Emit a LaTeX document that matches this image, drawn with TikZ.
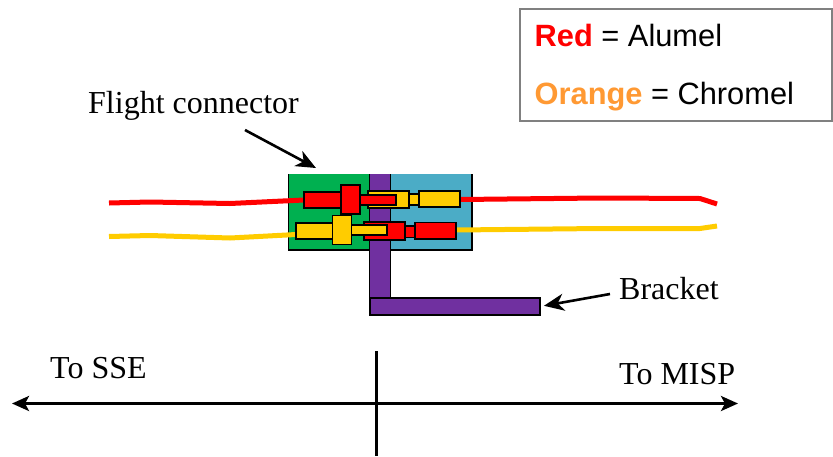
\documentclass[tikz,border=0pt]{standalone}
\usepackage{fontspec}
\setmainfont{Liberation Serif}
\newfontfamily\legendfont{Liberation Sans}
\usetikzlibrary{arrows.meta}
\definecolor{shellgreen}{RGB}{0,176,80}
\definecolor{shellblue}{RGB}{75,172,198}
\definecolor{bracketpurple}{RGB}{112,48,160}
\definecolor{wirered}{RGB}{255,0,0}
\definecolor{wireorange}{RGB}{255,204,0}
\definecolor{legendorange}{RGB}{255,153,51}

\begin{document}
\begin{tikzpicture}[x=1pt,y=-1pt,
	part/.style={rectangle,draw=black,line width=1.5pt,inner sep=0pt,outer sep=0pt},
	redpart/.style={part,fill=wirered},
	orangepart/.style={part,fill=wireorange},
	shell/.style={rectangle,inner sep=0pt,outer sep=0pt},
	redwire/.style={wirered,line width=5pt},
	orangewire/.style={wireorange,line width=5pt},
	label/.style={inner sep=0pt,font=\fontsize{32}{36}\selectfont},
	pointer/.style={line width=2.6pt,-{Stealth[length=20pt,width=17pt,inset=6pt]}},
	axis/.style={line width=3pt}]
\useasboundingbox (0,0) rectangle (833,456);

% connector shells
\node[shell,fill=shellgreen,minimum width=81pt,minimum height=76pt] (lefthalf) at (329,212) {};
\node[shell,fill=shellblue,minimum width=82pt,minimum height=76pt] (righthalf) at (431,212) {};
\node[shell,fill=bracketpurple,minimum width=21pt,minimum height=140pt] (post) at (379.5,244) {};
\node[part,fill=bracketpurple,minimum width=170pt,minimum height=17pt] (foot) at (455,306.5) {};
\draw[line width=1.5pt] (lefthalf.north west) -- (lefthalf.south west) -- (lefthalf.south east);
\draw[line width=1.5pt] (righthalf.north east) -- (righthalf.south east) -- (righthalf.south west);
\draw[line width=1pt] (post.north west) -- (post.south west);
\draw[line width=1pt] (post.north east) -- (foot.north -| post.east);

% wires
\coordinate (redleft) at (109,203);
\coordinate (redright) at (717,204);
\coordinate (orangeleft) at (109,236.5);
\coordinate (orangeright) at (717,226);
\draw[redwire] (redleft) -- (150,202) -- (230,203.5) -- (304,200);
\draw[redwire] (460,199.5) -- (600,198) -- (700,198.5) -- (redright);
\draw[orangewire] (orangeleft) -- (150,235.5) -- (230,238) -- (296,234.5);
\draw[orangewire] (456,230) -- (600,228.5) -- (700,228.5) -- (orangeright);

% upper contact
\node[orangepart,minimum width=41pt,minimum height=17pt] (topsocket) at (388.5,199.5) {};
\node[orangepart,minimum width=10pt,minimum height=11pt] (topneck) at (414,199.5) {};
\node[orangepart,minimum width=41pt,minimum height=16pt] (topbody) at (439.5,199) {};
\node[redpart,minimum width=37pt,minimum height=16pt] (topplug) at (322.5,200) {};
\node[redpart,minimum width=36pt,minimum height=10pt] (toppin) at (378,200) {};
\node[redpart,minimum width=19pt,minimum height=29pt] (topcollar) at (350.5,199.5) {};

% lower contact
\node[redpart,minimum width=41pt,minimum height=18pt] (lowsocket) at (384.5,231) {};
\node[redpart,minimum width=10pt,minimum height=11.5pt] (lowneck) at (410,231.5) {};
\node[redpart,minimum width=41pt,minimum height=16.5pt] (lowbody) at (435.5,230.5) {};
\node[orangepart,minimum width=37pt,minimum height=16pt] (lowplug) at (314.5,231) {};
\node[orangepart,minimum width=36pt,minimum height=10pt] (lowpin) at (369,230) {};
\node[orangepart,minimum width=19pt,minimum height=29pt] (lowcollar) at (342,230) {};

% labels
\node[label,anchor=base west] (flightlabel) at (88,113) {Flight connector};
\node[label,anchor=base west] (bracketlabel) at (619,299) {Bracket};
\node[label,anchor=base west] (ssse) at (50,378) {To SSE};
\node[label,anchor=base west] (misp) at (619,384) {To MISP};
\coordinate (flightstart) at (245,130);
\coordinate (flightend) at (316,168);
\coordinate (bracketstart) at (610,294);
\draw[pointer] (flightstart) -- (flightend);
\draw[pointer,shorten >=4pt] (bracketstart) -- (foot.east);

% direction arrows
\coordinate (farleft) at (12,403.5);
\coordinate (farright) at (738,403.5);
\coordinate (divtop) at (376.5,351);
\coordinate (divbottom) at (376.5,456);
\draw[axis,{Stealth[length=17pt,width=15pt,inset=4pt]}-{Stealth[length=17pt,width=15pt,inset=4pt]}] (farleft) -- (farright);
\draw[line width=3.5pt] (divtop) -- (divbottom);

% legend
\node[rectangle,draw=gray,line width=1.8pt,fill=white,minimum width=312pt,minimum height=112pt,inner sep=0pt] (legendbox) at (676,65) {};
\node[anchor=base west,inner sep=0pt,font=\legendfont\fontsize{30.8}{34}\selectfont] (redentry) at (534.5,46) {\textcolor{wirered}{\bfseries Red} = Alumel};
\node[anchor=base west,inner sep=0pt,font=\legendfont\fontsize{30.8}{34}\selectfont] (orangeentry) at (534.5,104) {\textcolor{legendorange}{\bfseries Orange} = Chromel};
\end{tikzpicture}
\end{document}
